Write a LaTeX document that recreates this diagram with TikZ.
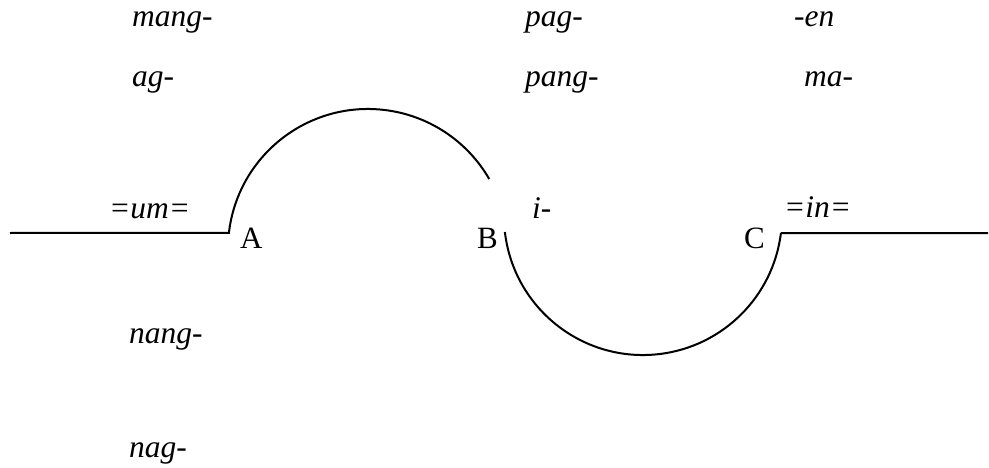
\documentclass[tikz,border=0pt]{standalone}
\usepackage{fontspec}
\setmainfont{Liberation Serif}
\begin{document}
\begin{tikzpicture}[x=1pt,y=1pt,
  lbl/.style={anchor=base west,inner sep=0pt,font=\fontsize{31.5}{36}\selectfont\itshape},
  pt/.style={anchor=base west,inner sep=0pt,font=\fontsize{31}{36}\selectfont},
  stroke/.style={line width=2pt}]
\useasboundingbox (0,0) rectangle (989,467);
% affix labels (y = 467 - image y)
\node[lbl] (mang) at (132,440) {mang-};
\node[lbl] (ag)   at (132,380) {ag-};
\node[lbl] (um)   at (109,249) {=um=};
\node[lbl] (nang) at (129,124) {nang-};
\node[lbl] (nag)  at (129,10)  {nag-};
\node[lbl] (pag)  at (525,440) {pag-};
\node[lbl] (pang) at (525,380) {pang-};
\node[lbl] (i)    at (532,249) {i-};
\node[lbl] (en)   at (794,440) {-en};
\node[lbl] (ma)   at (804,380) {ma-};
\node[lbl] (in)   at (784,250) {=in=};
% point labels
\node[pt] (lA) at (240,219) {A};
\node[pt] (lB) at (477,219) {B};
\node[pt] (lC) at (744,219) {C};
% line
\coordinate (L) at (10,234);
\coordinate (A) at (228.9,234.1);
\coordinate (B) at (504.9,235.0);
\coordinate (R) at (988,234);
\draw[stroke] (L) -- (A) arc[start angle=173.4,end angle=30,radius=140];
\draw[stroke] (B) arc[start angle=186.6,end angle=353,radius=139] coordinate (C) -- (C |- R) -- (R);
\end{tikzpicture}
\end{document}
